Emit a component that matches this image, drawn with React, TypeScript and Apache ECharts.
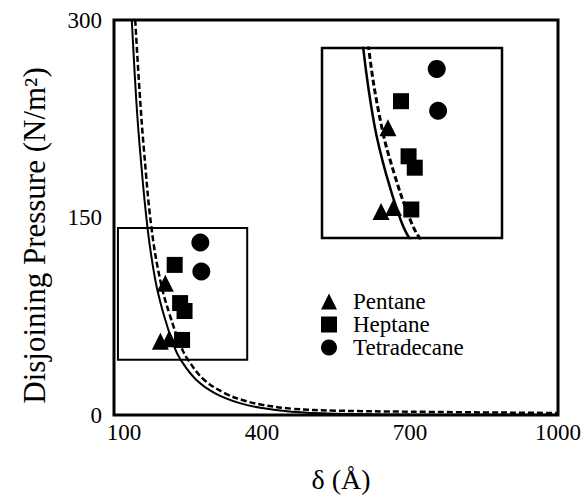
import React, { useEffect, useRef } from "react";
import * as echarts from "echarts";

// Axis ticks
const xTicks = [100, 400, 700, 1000];
const yTicks = [0, 150, 300];

// Theory curves
const solidDelta = [136, 145, 153, 168, 184, 201, 222, 235, 266, 305, 355, 400, 460, 550, 700, 1000];
const solidPressure = [300, 240, 200, 142, 102, 76, 52, 42, 27, 16.5, 9, 5.3, 2.5, 1.0, 0.3, 0.1];
const dashedDelta = [143, 152, 161, 176, 194, 213, 236, 250, 282, 325, 360, 400, 460, 550, 700, 1000];
const dashedPressure = [300, 245, 200, 142, 102, 76, 52, 42, 27, 16.5, 11.4, 7.8, 4.8, 3.3, 2.5, 1.5];

// Measurements
const pentaneDelta = [194, 204, 212];
const pentanePressure = [56, 100, 58];
const heptaneDelta = [223, 234, 243, 238];
const heptanePressure = [114, 85, 79, 57];
const tetradecaneDelta = [275, 277];
const tetradecanePressure = [131, 109];

// Zoomed region shown in the inset
const zoomDelta = [108, 370];
const zoomPressure = [42, 142];

const zip = (xs: number[], ys: number[]) => xs.map((x, i) => [x, ys[i]]);

const FONT = '"Liberation Serif", "Times New Roman", serif';

export default function App() {
  const ref = useRef<HTMLDivElement>(null);
  useEffect(() => {
    if (!ref.current) return;
    const chart = echarts.init(ref.current, undefined, { renderer: "svg" });

    const curveSeries = (gi: number, inset: boolean) => [
      {
        type: "line",
        xAxisIndex: gi,
        yAxisIndex: gi,
        data: zip(solidDelta, solidPressure),
        smooth: 0.4,
        showSymbol: false,
        symbol: "none",
        lineStyle: { color: "#000", width: inset ? 2.5 : 2 },
        z: 3,
        markArea: inset
          ? undefined
          : {
              silent: true,
              itemStyle: { color: "rgba(0,0,0,0)", borderColor: "#000", borderWidth: 2 },
              data: [[{ coord: [zoomDelta[0], zoomPressure[1]] }, { coord: [zoomDelta[1], zoomPressure[0]] }]],
            },
      },
      {
        type: "line",
        xAxisIndex: gi,
        yAxisIndex: gi,
        data: zip(dashedDelta, dashedPressure),
        smooth: 0.4,
        showSymbol: false,
        symbol: "none",
        lineStyle: { color: "#000", width: inset ? 3 : 2.5, type: [6, 3] },
        z: 3,
      },
    ];

    const pointSeries = (gi: number) => [
      {
        name: "Pentane",
        type: "scatter",
        xAxisIndex: gi,
        yAxisIndex: gi,
        symbol: "triangle",
        symbolSize: 17,
        itemStyle: { color: "#000", opacity: 1 },
        data: zip(pentaneDelta, pentanePressure),
        z: 4,
      },
      {
        name: "Heptane",
        type: "scatter",
        xAxisIndex: gi,
        yAxisIndex: gi,
        symbol: "rect",
        symbolSize: 16,
        itemStyle: { color: "#000", opacity: 1 },
        data: zip(heptaneDelta, heptanePressure),
        z: 4,
      },
      {
        name: "Tetradecane",
        type: "scatter",
        xAxisIndex: gi,
        yAxisIndex: gi,
        symbol: "circle",
        symbolSize: 18,
        itemStyle: { color: "#000", opacity: 1 },
        data: zip(tetradecaneDelta, tetradecanePressure),
        z: 4,
      },
    ];

    chart.setOption({
      animation: false,
      backgroundColor: "#fff",
      textStyle: { fontFamily: FONT, color: "#000" },
      legend: {
        data: ["Pentane", "Heptane", "Tetradecane"],
        orient: "vertical",
        left: 316,
        top: 285,
        itemWidth: 16,
        itemHeight: 16,
        itemGap: 0,
        selectedMode: false,
        itemStyle: { opacity: 1 },
        textStyle: { fontFamily: FONT, fontSize: 23, lineHeight: 22, color: "#000", padding: [0, 0, 0, 11] },
      },
      grid: [
        {
          left: 114, top: 20, width: 444, height: 395, show: true, borderColor: "#000", borderWidth: 3,
          backgroundColor: "#fff", z: 1, outerBoundsMode: "none", containLabel: false,
        },
        {
          left: 322, top: 48, width: 180, height: 190, show: true, borderColor: "#000", borderWidth: 2.5,
          backgroundColor: "#fff", z: 2, outerBoundsMode: "none", containLabel: false,
        },
      ],
      xAxis: [
        {
          gridIndex: 0,
          type: "value",
          min: xTicks[0],
          max: xTicks[xTicks.length - 1],
          interval: xTicks[1] - xTicks[0],
          name: "δ (Å)",
          nameLocation: "middle",
          nameGap: 51,
          nameTextStyle: { fontFamily: FONT, fontSize: 28, lineHeight: 27, color: "#000", padding: [0, 0, 0, 10] },
          axisLine: { show: false },
          axisTick: { show: true, inside: true, length: 8, lineStyle: { color: "#000", width: 2 } },
          axisLabel: {
            fontFamily: FONT,
            fontSize: 23,
            color: "#000",
            margin: 6,
            formatter: (v: number) => (v === xTicks[0] ? "{first|" + v + "}" : String(v)),
            rich: { first: { fontFamily: FONT, fontSize: 23, color: "#000", padding: [0, 0, 0, 20] } },
          },
          splitLine: { show: false },
        },
        { gridIndex: 1, type: "value", min: zoomDelta[0], max: zoomDelta[1], show: false },
      ],
      yAxis: [
        {
          gridIndex: 0,
          type: "value",
          min: yTicks[0],
          max: yTicks[yTicks.length - 1],
          interval: yTicks[1] - yTicks[0],
          name: "Disjoining Pressure (N/m²)",
          nameLocation: "middle",
          nameGap: 64,
          nameTextStyle: { fontFamily: FONT, fontSize: 31, color: "#000", padding: [0, 36, 0, 0] },
          axisLine: { show: false },
          axisTick: { show: true, inside: true, length: 9, lineStyle: { color: "#000", width: 2 } },
          axisLabel: { fontFamily: FONT, fontSize: 23, color: "#000", margin: 12, formatter: (v: number) => String(v) },
          splitLine: { show: false },
        },
        { gridIndex: 1, type: "value", min: zoomPressure[0], max: zoomPressure[1], show: false },
      ],
      series: [...curveSeries(0, false), ...pointSeries(0), ...curveSeries(1, true), ...pointSeries(1)],
    });
    return () => chart.dispose();
  }, []);
  return <div ref={ref} style={{ position: "fixed", left: 0, top: 0, width: 585, height: 496 }} />;
}
